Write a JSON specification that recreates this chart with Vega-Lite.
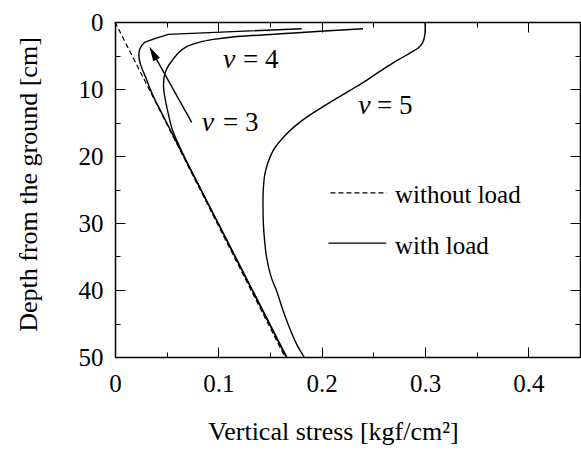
{
  "$schema": "https://vega.github.io/schema/vega-lite/v6.json",
  "width": 465,
  "height": 335,
  "autosize": "none",
  "padding": {"left": 115, "top": 22, "right": 1, "bottom": 103},
  "background": "white",
  "config": {"view": {"stroke": null}, "font": "Liberation Serif"},
  "datasets": {
    "without": [
      {"i": 0, "v": 0.0, "d": 0.0},
      {"i": 1, "v": 0.1645, "d": 50.0}
    ],
    "nu3": [
      {"i": 0, "v": 0.1806, "d": 1.0},
      {"i": 1, "v": 0.0516, "d": 1.85},
      {"i": 2, "v": 0.040, "d": 2.4},
      {"i": 3, "v": 0.029, "d": 3.0},
      {"i": 4, "v": 0.0258, "d": 3.5},
      {"i": 5, "v": 0.0238, "d": 4.1},
      {"i": 6, "v": 0.0230, "d": 4.8},
      {"i": 7, "v": 0.0234, "d": 5.5},
      {"i": 8, "v": 0.0246, "d": 6.3},
      {"i": 9, "v": 0.0268, "d": 7.2},
      {"i": 10, "v": 0.0298, "d": 8.3},
      {"i": 11, "v": 0.0328, "d": 9.5},
      {"i": 12, "v": 0.0362, "d": 10.8},
      {"i": 13, "v": 0.0399, "d": 12.0},
      {"i": 14, "v": 0.0664, "d": 20.0},
      {"i": 15, "v": 0.0995, "d": 30.0},
      {"i": 16, "v": 0.1326, "d": 40.0},
      {"i": 17, "v": 0.1656, "d": 50.0}
    ],
    "curves": [
      {"s": "nu4", "i": 0, "v": 0.240, "d": 1.0},
      {"s": "nu4", "i": 1, "v": 0.177, "d": 1.6},
      {"s": "nu4", "i": 2, "v": 0.114, "d": 2.24},
      {"s": "nu4", "i": 3, "v": 0.095, "d": 2.6},
      {"s": "nu4", "i": 4, "v": 0.082, "d": 3.0},
      {"s": "nu4", "i": 5, "v": 0.069, "d": 3.7},
      {"s": "nu4", "i": 6, "v": 0.062, "d": 4.5},
      {"s": "nu4", "i": 7, "v": 0.0565, "d": 5.5},
      {"s": "nu4", "i": 8, "v": 0.051, "d": 6.7},
      {"s": "nu4", "i": 9, "v": 0.0478, "d": 8.0},
      {"s": "nu4", "i": 10, "v": 0.047, "d": 9.7},
      {"s": "nu4", "i": 11, "v": 0.0488, "d": 11.7},
      {"s": "nu4", "i": 12, "v": 0.0516, "d": 13.7},
      {"s": "nu4", "i": 13, "v": 0.0558, "d": 16.2},
      {"s": "nu4", "i": 14, "v": 0.0668, "d": 20.0},
      {"s": "nu4", "i": 15, "v": 0.0832, "d": 25.0},
      {"s": "nu4", "i": 16, "v": 0.0998, "d": 30.0},
      {"s": "nu4", "i": 17, "v": 0.1330, "d": 40.0},
      {"s": "nu4", "i": 18, "v": 0.1662, "d": 50.0},
      {"s": "nu5", "i": 0, "v": 0.300, "d": 0.0},
      {"s": "nu5", "i": 1, "v": 0.300, "d": 1.7},
      {"s": "nu5", "i": 2, "v": 0.298, "d": 3.0},
      {"s": "nu5", "i": 3, "v": 0.294, "d": 3.8},
      {"s": "nu5", "i": 4, "v": 0.287, "d": 4.5},
      {"s": "nu5", "i": 5, "v": 0.278, "d": 5.3},
      {"s": "nu5", "i": 6, "v": 0.268, "d": 6.2},
      {"s": "nu5", "i": 7, "v": 0.257, "d": 7.3},
      {"s": "nu5", "i": 8, "v": 0.2435, "d": 8.7},
      {"s": "nu5", "i": 9, "v": 0.2275, "d": 10.2},
      {"s": "nu5", "i": 10, "v": 0.2113, "d": 11.7},
      {"s": "nu5", "i": 11, "v": 0.1975, "d": 13.0},
      {"s": "nu5", "i": 12, "v": 0.1855, "d": 14.2},
      {"s": "nu5", "i": 13, "v": 0.1745, "d": 15.5},
      {"s": "nu5", "i": 14, "v": 0.166, "d": 16.7},
      {"s": "nu5", "i": 15, "v": 0.1585, "d": 18.0},
      {"s": "nu5", "i": 16, "v": 0.153, "d": 19.2},
      {"s": "nu5", "i": 17, "v": 0.148, "d": 21.0},
      {"s": "nu5", "i": 18, "v": 0.145, "d": 22.7},
      {"s": "nu5", "i": 19, "v": 0.1435, "d": 25.0},
      {"s": "nu5", "i": 20, "v": 0.1432, "d": 27.0},
      {"s": "nu5", "i": 21, "v": 0.1436, "d": 30.2},
      {"s": "nu5", "i": 22, "v": 0.1450, "d": 33.0},
      {"s": "nu5", "i": 23, "v": 0.1468, "d": 35.2},
      {"s": "nu5", "i": 24, "v": 0.151, "d": 38.0},
      {"s": "nu5", "i": 25, "v": 0.1565, "d": 40.2},
      {"s": "nu5", "i": 26, "v": 0.1625, "d": 43.0},
      {"s": "nu5", "i": 27, "v": 0.1677, "d": 45.2},
      {"s": "nu5", "i": 28, "v": 0.1755, "d": 48.0},
      {"s": "nu5", "i": 29, "v": 0.183, "d": 50.0}
    ],
    "legendDash": [{"a": 0.2085, "b": 0.2630, "d": 25.5}],
    "legendSolid": [{"a": 0.2065, "b": 0.2626, "d": 33.0}],
    "arrow": [{"a": 0.0742, "b": 0.0352, "d1": 14.97, "d2": 4.2}],
    "arrowhead": [{"v": 0.0332, "d": 3.64}],
    "nuLabels": [
      {"v": 0.1045, "d": 5.6, "t": "ν"},
      {"v": 0.0839, "d": 15.0, "t": "ν"},
      {"v": 0.2355, "d": 12.6, "t": "ν"}
    ],
    "eqLabels": [
      {"v": 0.1239, "d": 5.6, "t": "= 4"},
      {"v": 0.1045, "d": 15.0, "t": "= 3"},
      {"v": 0.2535, "d": 12.6, "t": "= 5"}
    ],
    "legendLabels": [
      {"v": 0.271, "d": 25.8, "t": "without load"},
      {"v": 0.271, "d": 33.4, "t": "with load"}
    ]
  },
  "layer": [
    {
      "data": {"name": "without"},
      "mark": {"type": "line", "color": "black", "strokeWidth": 1.2, "strokeDash": [5, 3]},
      "encoding": {
        "x": {"field": "v", "type": "quantitative",
          "scale": {"domain": [0, 0.45], "nice": false, "zero": false},
          "axis": {"orient": "bottom", "values": [0, 0.05, 0.1, 0.15, 0.2, 0.25, 0.3, 0.35, 0.4, 0.45],
            "labelExpr": "round(datum.value*20) % 2 === 0 ? (datum.value === 0 ? '0' : format(datum.value, '.1f')) : ''",
            "title": "Vertical stress [kgf/cm²]", "titleFont": "Liberation Serif", "titleFontSize": 26, "titleFontWeight": "normal", "titleColor": "black",
            "titleX": 218, "titleY": 82, "titleBaseline": "alphabetic", "titleAlign": "center", "titleAnchor": null,
            "labelFont": "Liberation Serif", "labelFontSize": 25, "labelColor": "black", "labelPadding": 24, "labelBaseline": "top",
            "labelFlush": false, "labelOverlap": false, "labelBound": false,
            "tickSize": {"condition": {"test": "round(datum.value*20) % 2 === 0", "value": -10}, "value": -5},
            "tickColor": "black", "tickWidth": 1, "domainColor": "black", "domainWidth": 1.5, "grid": false}},
        "y": {"field": "d", "type": "quantitative",
          "scale": {"domain": [0, 50], "reverse": true, "nice": false, "zero": false},
          "axis": {"orient": "left", "values": [0, 5, 10, 15, 20, 25, 30, 35, 40, 45, 50],
            "labelExpr": "datum.value % 10 === 0 ? format(datum.value, 'd') : ''",
            "title": "Depth from the ground [cm]", "titleFont": "Liberation Serif", "titleFontSize": 26, "titleFontWeight": "normal", "titleColor": "black",
            "titleX": -87, "titleY": 162, "titleAngle": -90, "titleBaseline": "middle", "titleAlign": "center", "titleAnchor": null,
            "labelFont": "Liberation Serif", "labelFontSize": 25, "labelColor": "black", "labelPadding": 22, "labelBaseline": "middle", "labelAlign": "right",
            "labelFlush": false, "labelOverlap": false, "labelBound": false,
            "tickSize": {"condition": {"test": "datum.value % 10 === 0", "value": -10}, "value": -5},
            "tickColor": "black", "tickWidth": 1, "domainColor": "black", "domainWidth": 1.5, "grid": false}},
        "order": {"field": "i", "type": "quantitative"}
      }
    },
    {
      "data": {"name": "nu3"},
      "mark": {"type": "line", "color": "black", "strokeWidth": 1.4},
      "encoding": {
        "x": {"field": "v", "type": "quantitative",
          "scale": {"domain": [0, 0.45], "nice": false, "zero": false},
          "axis": {"orient": "top", "values": [0, 0.05, 0.1, 0.15, 0.2, 0.25, 0.3, 0.35, 0.4, 0.45], "labels": false, "title": null,
            "tickSize": {"condition": {"test": "round(datum.value*20) % 2 === 0", "value": -10}, "value": -5},
            "tickColor": "black", "tickWidth": 1, "domainColor": "black", "domainWidth": 1.5, "grid": false}},
        "y": {"field": "d", "type": "quantitative",
          "scale": {"domain": [0, 50], "reverse": true, "nice": false, "zero": false},
          "axis": {"orient": "right", "values": [0, 5, 10, 15, 20, 25, 30, 35, 40, 45, 50], "labels": false, "title": null,
            "tickSize": {"condition": {"test": "datum.value % 10 === 0", "value": -10}, "value": -5},
            "tickColor": "black", "tickWidth": 1, "domainColor": "black", "domainWidth": 1.5, "grid": false}},
        "order": {"field": "i", "type": "quantitative"}
      }
    },
    {
      "data": {"name": "curves"},
      "mark": {"type": "line", "color": "black", "strokeWidth": 1.4, "interpolate": "catmull-rom"},
      "encoding": {
        "x": {"field": "v", "type": "quantitative", "scale": {"domain": [0, 0.45], "nice": false, "zero": false}, "axis": null},
        "y": {"field": "d", "type": "quantitative", "scale": {"domain": [0, 50], "reverse": true, "nice": false, "zero": false}, "axis": null},
        "detail": {"field": "s", "type": "nominal"},
        "order": {"field": "i", "type": "quantitative"}
      }
    },
    {
      "data": {"name": "legendDash"},
      "mark": {"type": "rule", "color": "black", "strokeWidth": 1.2, "strokeDash": [5, 3]},
      "encoding": {
        "x": {"field": "a", "type": "quantitative", "scale": {"domain": [0, 0.45], "nice": false, "zero": false}, "axis": null},
        "x2": {"field": "b"},
        "y": {"field": "d", "type": "quantitative", "scale": {"domain": [0, 50], "reverse": true, "nice": false, "zero": false}, "axis": null}
      }
    },
    {
      "data": {"name": "legendSolid"},
      "mark": {"type": "rule", "color": "black", "strokeWidth": 1.4},
      "encoding": {
        "x": {"field": "a", "type": "quantitative", "scale": {"domain": [0, 0.45], "nice": false, "zero": false}, "axis": null},
        "x2": {"field": "b"},
        "y": {"field": "d", "type": "quantitative", "scale": {"domain": [0, 50], "reverse": true, "nice": false, "zero": false}, "axis": null}
      }
    },
    {
      "data": {"name": "arrow"},
      "mark": {"type": "rule", "color": "black", "strokeWidth": 1.4},
      "encoding": {
        "x": {"field": "a", "type": "quantitative", "scale": {"domain": [0, 0.45], "nice": false, "zero": false}, "axis": null},
        "x2": {"field": "b"},
        "y": {"field": "d1", "type": "quantitative", "scale": {"domain": [0, 50], "reverse": true, "nice": false, "zero": false}, "axis": null},
        "y2": {"field": "d2"}
      }
    },
    {
      "data": {"name": "arrowhead"},
      "mark": {"type": "point", "shape": "M0,0L-0.5,2L0.5,2Z", "size": 225, "filled": true, "color": "black", "opacity": 1, "angle": 331},
      "encoding": {
        "x": {"field": "v", "type": "quantitative", "scale": {"domain": [0, 0.45], "nice": false, "zero": false}, "axis": null},
        "y": {"field": "d", "type": "quantitative", "scale": {"domain": [0, 50], "reverse": true, "nice": false, "zero": false}, "axis": null}
      }
    },
    {
      "data": {"name": "nuLabels"},
      "mark": {"type": "text", "font": "Liberation Serif", "fontSize": 28, "fontStyle": "italic", "color": "black", "align": "left", "baseline": "middle"},
      "encoding": {
        "x": {"field": "v", "type": "quantitative", "scale": {"domain": [0, 0.45], "nice": false, "zero": false}, "axis": null},
        "y": {"field": "d", "type": "quantitative", "scale": {"domain": [0, 50], "reverse": true, "nice": false, "zero": false}, "axis": null},
        "text": {"field": "t", "type": "nominal"}
      }
    },
    {
      "data": {"name": "eqLabels"},
      "mark": {"type": "text", "font": "Liberation Serif", "fontSize": 27, "color": "black", "align": "left", "baseline": "middle"},
      "encoding": {
        "x": {"field": "v", "type": "quantitative", "scale": {"domain": [0, 0.45], "nice": false, "zero": false}, "axis": null},
        "y": {"field": "d", "type": "quantitative", "scale": {"domain": [0, 50], "reverse": true, "nice": false, "zero": false}, "axis": null},
        "text": {"field": "t", "type": "nominal"}
      }
    },
    {
      "data": {"name": "legendLabels"},
      "mark": {"type": "text", "font": "Liberation Serif", "fontSize": 25, "color": "black", "align": "left", "baseline": "middle"},
      "encoding": {
        "x": {"field": "v", "type": "quantitative", "scale": {"domain": [0, 0.45], "nice": false, "zero": false}, "axis": null},
        "y": {"field": "d", "type": "quantitative", "scale": {"domain": [0, 50], "reverse": true, "nice": false, "zero": false}, "axis": null},
        "text": {"field": "t", "type": "nominal"}
      }
    }
  ],
  "resolve": {"axis": {"x": "independent", "y": "independent"}}
}
